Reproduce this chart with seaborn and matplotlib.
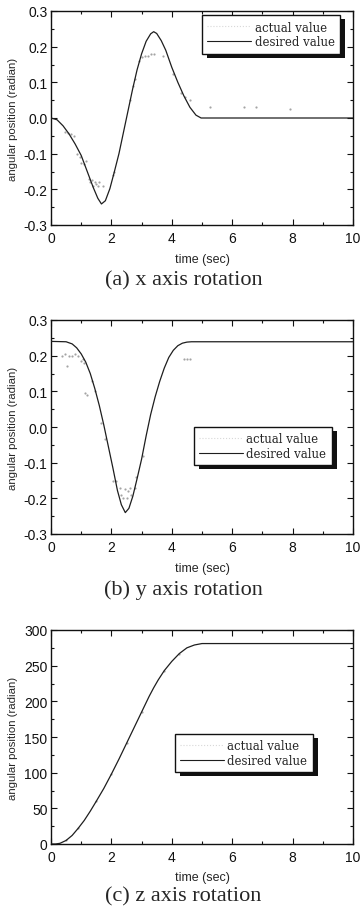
import numpy as np
import pandas as pd
import seaborn as sns
import matplotlib.pyplot as plt
from matplotlib.lines import Line2D
from matplotlib.patches import Rectangle
from matplotlib.ticker import MultipleLocator

# ===============================
# Data
# ===============================

# (a) x axis rotation - desired trajectory
t_x = [0, 0.2, 0.4, 0.6, 0.8, 1.0, 1.2, 1.4, 1.55, 1.67, 1.8, 1.95, 2.1, 2.25,
       2.4, 2.55, 2.7, 2.85, 3.0, 3.15, 3.3, 3.4, 3.5, 3.65, 3.8, 4.0, 4.2,
       4.4, 4.6, 4.8, 4.97, 10]
x_des = [0, -0.005, -0.022, -0.045, -0.073, -0.105, -0.15, -0.195, -0.225, -0.241,
         -0.232, -0.198, -0.15, -0.1, -0.04, 0.02, 0.08, 0.135, 0.18, 0.215,
         0.236, 0.242, 0.237, 0.217, 0.19, 0.142, 0.1, 0.062, 0.03, 0.008, 0, 0]

# (a) actual value samples
t_x_act = [0.45, 0.55, 0.65, 0.75, 0.85, 0.95, 1.0, 1.1, 1.15, 1.25, 1.3, 1.35, 1.4,
           1.45, 1.5, 1.55, 1.6, 1.72, 2.05, 2.1, 2.6, 2.7, 2.77, 2.9, 3.0, 3.1,
           3.2, 3.3, 3.4, 3.7, 4.03, 4.3, 4.45, 4.6, 5.26, 6.4, 6.8, 7.9]
x_act = [-0.04, -0.042, -0.045, -0.05, -0.1, -0.11, -0.125, -0.13, -0.12, -0.17,
         -0.18, -0.175, -0.19, -0.18, -0.185, -0.19, -0.18, -0.19, -0.16, -0.15,
         0.05, 0.09, 0.11, 0.16, 0.17, 0.175, 0.175, 0.18, 0.18, 0.175, 0.123,
         0.07, 0.06, 0.05, 0.03, 0.03, 0.03, 0.025]

# (b) y axis rotation - desired trajectory
t_y = [0, 0.5, 0.7, 0.85, 1.0, 1.15, 1.3, 1.45, 1.6, 1.75, 1.9, 2.05, 2.2, 2.33,
       2.46, 2.58, 2.71, 2.85, 3.0, 3.15, 3.3, 3.45, 3.6, 3.75, 3.9, 4.05, 4.2,
       4.35, 4.5, 4.65, 10]
y_des = [0.24, 0.239, 0.233, 0.222, 0.205, 0.182, 0.15, 0.108, 0.06, 0.005, -0.055,
         -0.115, -0.178, -0.218, -0.24, -0.228, -0.194, -0.145, -0.09, -0.025,
         0.035, 0.085, 0.128, 0.165, 0.195, 0.215, 0.228, 0.235, 0.238, 0.239, 0.239]

# (b) actual value samples
t_y_act = [0.35, 0.45, 0.52, 0.6, 0.7, 0.8, 0.9, 1.0, 1.05, 1.1, 1.12, 1.2, 1.35,
           1.45, 1.67, 1.78, 2.05, 2.16, 2.27, 2.33, 2.4, 2.45, 2.5, 2.55, 2.6,
           2.65, 2.77, 2.82, 3.04, 4.4, 4.5, 4.6]
y_act = [0.2, 0.205, 0.17, 0.2, 0.2, 0.205, 0.2, 0.185, 0.19, 0.18, 0.095, 0.09,
         0.13, 0.1, 0.01, -0.035, -0.15, -0.15, -0.17, -0.19, -0.2, -0.175,
         -0.2, -0.18, -0.17, -0.19, -0.17, -0.14, -0.08, 0.19, 0.19, 0.19]

# (c) z axis rotation - desired trajectory
t_z = [0, 0.15, 0.3, 0.5, 0.7, 0.9, 1.1, 1.3, 1.5, 1.75, 2.0, 2.25, 2.5, 2.75,
       3.0, 3.25, 3.4, 3.55, 3.75, 4.0, 4.25, 4.5, 4.75, 5.0, 10]
z_des = [0, 0, 1, 5, 12, 22, 33, 46, 60, 78, 98, 119, 141, 163, 185, 207, 219,
         230, 243, 256, 267, 275, 279, 281, 281]

# (c) actual value samples (lie on the desired curve)
t_z_act = [0.5, 0.9, 1.5, 2.0, 2.5, 3.0, 3.75, 4.25]
z_act = [5, 22, 60, 98, 141, 185, 243, 267]

captions = ["(a) x axis rotation", "(b) y axis rotation", "(c) z axis rotation"]

# ===============================
# Plot
# ===============================

sns.set_theme(style="ticks")
plt.rcParams["font.family"] = ["Liberation Sans", "DejaVu Sans"]
plt.rcParams["axes.unicode_minus"] = False

fig = plt.figure(figsize=(3.6, 9.12), dpi=100)

# axes boxes in pixels: (left, top, right, bottom)
boxes = [(51, 12, 353, 226), (51, 321, 353, 535), (51, 631, 353, 845)]
legend_pos = [(0.5, 0.98), (0.473, 0.5), (0.41, 0.514)]
xlabel_y = [260, 569, 878]
caption_y = [281, 590, 897]

panels = [
    (t_x, x_des, t_x_act, x_act, (-0.3, 0.3), 0.1, 0.05),
    (t_y, y_des, t_y_act, y_act, (-0.3, 0.3), 0.1, 0.05),
    (t_z, z_des, t_z_act, z_act, (0, 300), 50, 25),
]

W, H = 360, 912
for i, (t, des, ta, act, ylim, major, minor) in enumerate(panels):
    l, tp, r, b = boxes[i]
    ax = fig.add_axes([l / W, 1 - b / H, (r - l) / W, (b - tp) / H])

    sns.scatterplot(x=ta, y=act, ax=ax, s=2.5, color="#a4a4a4", linewidth=0, zorder=2)
    sns.lineplot(x=t, y=des, ax=ax, color="#1e1e1e", lw=0.9, zorder=3)

    ax.set_xlim(0, 10)
    ax.set_ylim(*ylim)
    ax.xaxis.set_major_locator(MultipleLocator(2))
    ax.xaxis.set_minor_locator(MultipleLocator(1))
    ax.yaxis.set_major_locator(MultipleLocator(major))
    ax.yaxis.set_minor_locator(MultipleLocator(minor))
    ax.tick_params(which="both", direction="in", top=True, right=True,
                   colors="#111111", labelsize=10, width=0.8)
    ax.tick_params(axis="x", pad=4.5)
    ax.tick_params(axis="y", pad=2.5)
    ax.tick_params(which="major", length=4)
    ax.tick_params(which="minor", length=2)
    for sp in ax.spines.values():
        sp.set_color("#111111")
        sp.set_linewidth(1.0)

    ax.set_ylabel("")
    ax.set_xlabel("")
    fig.text(13 / W, 1 - (tp + b) / 2 / H, "angular position (radian)", fontsize=8.2,
             rotation=90, ha="center", va="center")
    fig.text((l + r) / 2 / W, 1 - xlabel_y[i] / H, "time (sec)", fontsize=9,
             ha="center", va="center")
    fig.text(0.51, 1 - caption_y[i] / H, captions[i], fontsize=16,
             family=["Liberation Serif", "DejaVu Serif"], ha="center", va="center")

    handles = [Line2D([], [], color="#d8d8d8", lw=0.8, ls=":"),
               Line2D([], [], color="#1e1e1e", lw=0.8)]
    leg = ax.legend(handles, ["actual value", "desired value"], loc="upper left",
                    bbox_to_anchor=legend_pos[i], borderaxespad=0, fancybox=False,
                    framealpha=1, edgecolor="#111111", borderpad=0.45,
                    labelspacing=0.15, handlelength=3.7, handletextpad=0.3,
                    prop={"family": ["DejaVu Serif"], "size": 8.5})
    leg.get_frame().set_linewidth(1.0)
    leg.set_zorder(6)

    # black drop shadow, offset right and down
    fig.canvas.draw()
    bb = leg.get_window_extent()
    inv = ax.transAxes.inverted()
    (x0, y0), (x1, y1) = inv.transform([(bb.x0 + 5, bb.y0 - 4), (bb.x1 + 5, bb.y1 - 4)])
    ax.add_patch(Rectangle((x0, y0), x1 - x0, y1 - y0, transform=ax.transAxes,
                           facecolor="#111111", edgecolor="none", zorder=5,
                           clip_on=False))

fig.savefig("out.png", dpi=100)
